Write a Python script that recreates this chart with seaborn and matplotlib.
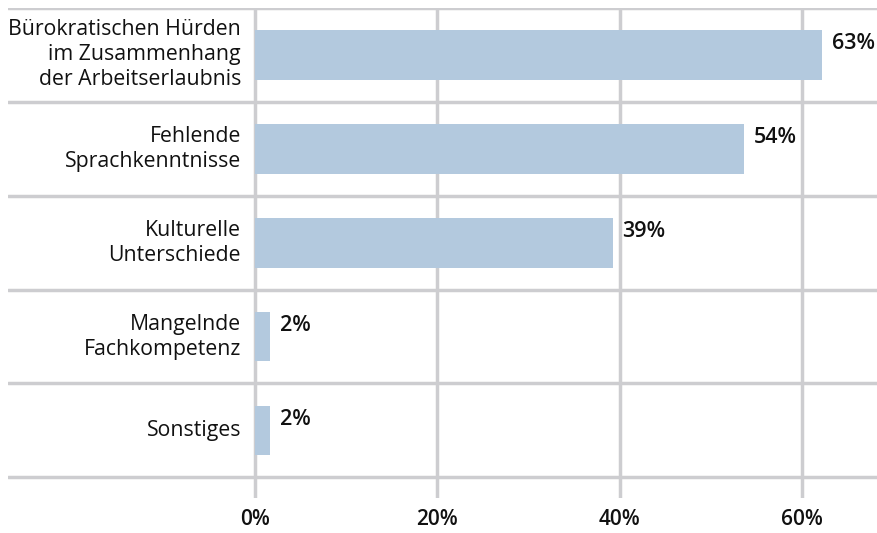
import pandas as pd
import matplotlib.pyplot as plt
import seaborn as sns

# Data
categories = [
    "Bürokratischen Hürden\nim Zusammenhang\nder Arbeitserlaubnis",
    "Fehlende\nSprachkenntnisse",
    "Kulturelle\nUnterschiede",
    "Mangelnde\nFachkompetenz",
    "Sonstiges",
]
values = [62.2, 53.6, 39.2, 1.6, 1.6]
labels = ["63%", "54%", "39%", "2%", "2%"]
ticks = [0, 20, 40, 60]
tick_labels = ["0%", "20%", "40%", "60%"]

df = pd.DataFrame({"cat": categories, "val": values})

sns.set_style("white")
plt.rcParams["font.family"] = ["Open Sans", "DejaVu Sans"]

fig = plt.figure(figsize=(8.77, 5.33), dpi=100)
ax = fig.add_axes([8 / 877, 1 - 498 / 533, 869 / 877, 490 / 533])

grid_col = "#cdcdd0"
for t in ticks:
    ax.axvline(t, color=grid_col, lw=2.5, zorder=0)
for i in range(len(categories) + 1):
    ax.axhline(i - 0.5, color=grid_col, lw=2.5, zorder=0)

sns.barplot(data=df, x="val", y="cat", orient="h", color="#b3c9de",
            saturation=1, width=0.53, linewidth=0, ax=ax, zorder=2)

for i, (v, lab) in enumerate(zip(values, labels)):
    ax.text(v + 1.1, i - 0.12, lab, ha="left", va="center",
            fontsize=15.5, fontweight="semibold", color="#111111")
    ax.text(-1.55, i, categories[i], ha="right", va="center",
            fontsize=15.3, color="#111111", linespacing=1.25,
            multialignment="right")

ax.set_xlim(-27.1, 68.2)
ax.set_ylim(4.72, -0.5)
ax.set_xticks(ticks)
ax.set_xticklabels(tick_labels, fontsize=15, fontweight="semibold", color="#111111")
ax.tick_params(axis="x", length=0, pad=8)
ax.set_yticks([])
ax.set_xlabel("")
ax.set_ylabel("")
for s in ax.spines.values():
    s.set_visible(False)

fig.savefig("out.png", dpi=100)
